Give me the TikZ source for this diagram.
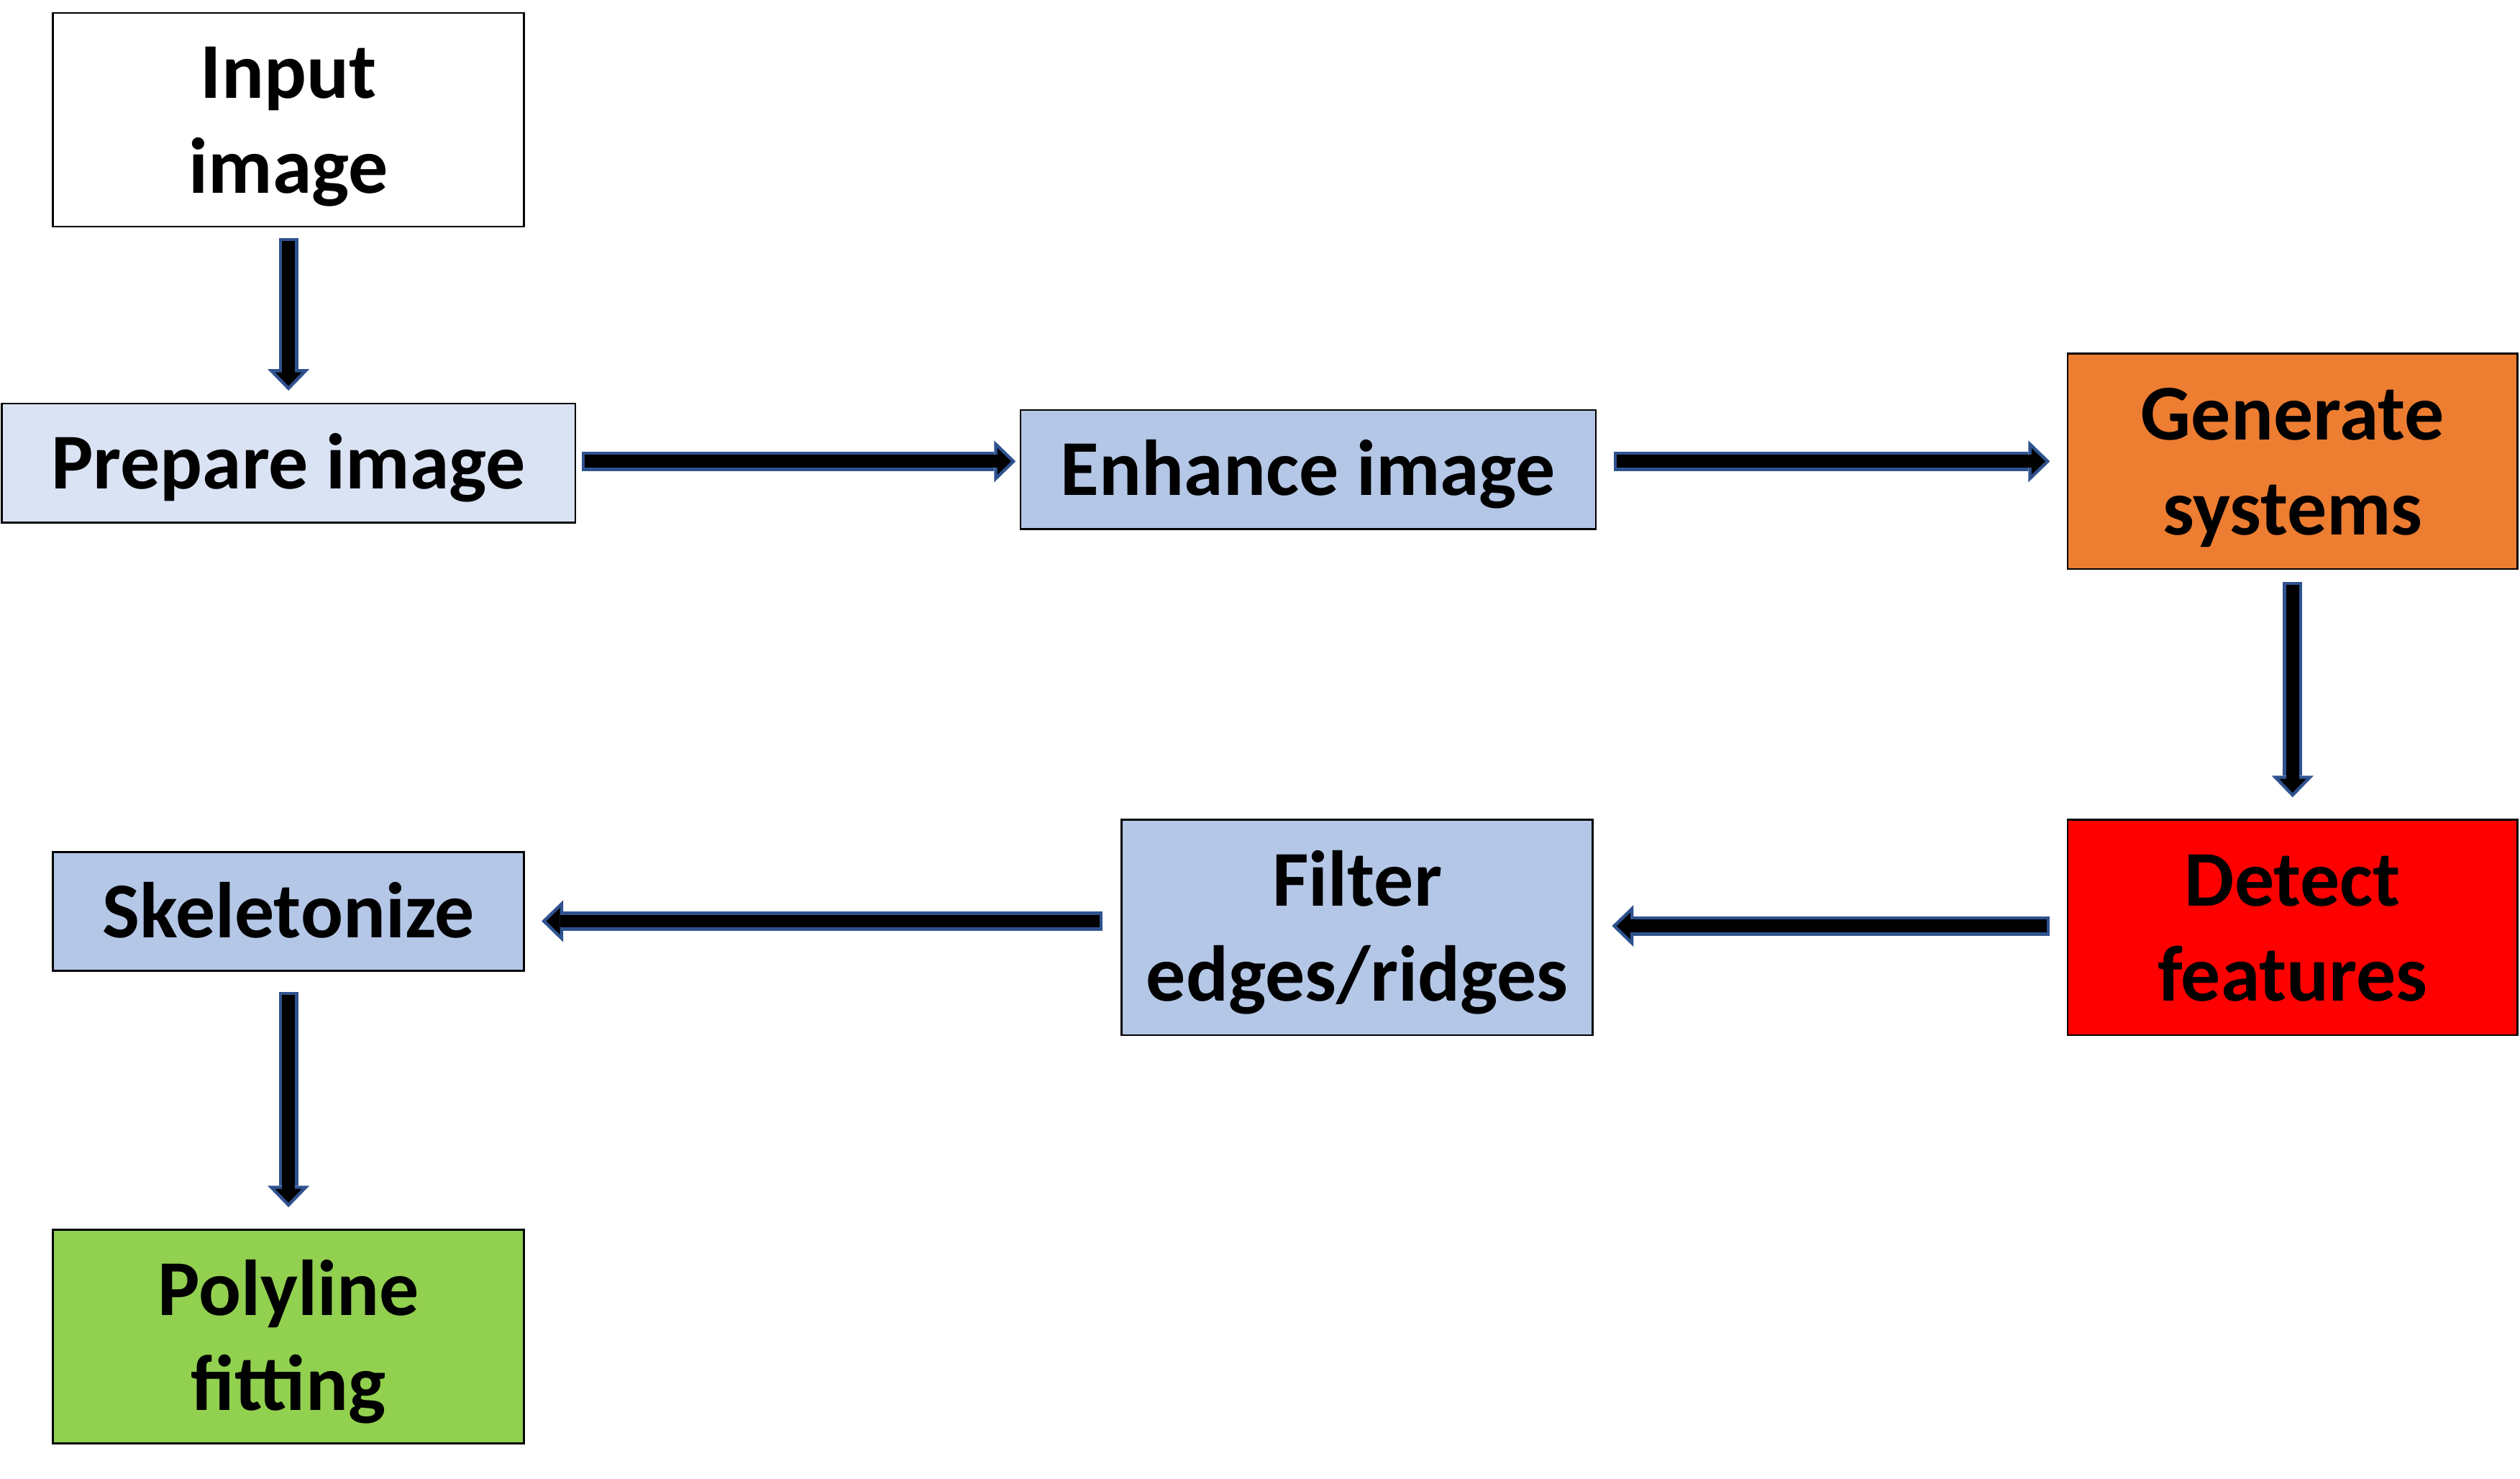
\documentclass[tikz,border=0pt]{standalone}
\usepackage{fontspec}
\setmainfont{Carlito}
\usetikzlibrary{arrows.meta,calc}
\definecolor{lightblue}{HTML}{DAE3F3}
\definecolor{midblue}{HTML}{B4C7E7}
\definecolor{orangebox}{HTML}{ED7D31}
\definecolor{redbox}{HTML}{FF0000}
\definecolor{greenbox}{HTML}{92D050}
\definecolor{arrowblue}{HTML}{2F528F}
\newcommand\linestrut{\rule[-0.26em]{0pt}{1.18em}}
\begin{document}
\begin{tikzpicture}[x=0.5pt,y=-0.5pt,
  box/.style={draw=black, line width=0.6pt, rectangle, inner sep=0pt, outer sep=0pt,
    align=center, font=\fontsize{24.6}{29.5}\selectfont\bfseries},
  flowarrow/.style={line width=4pt, draw=black, shorten <=1pt, shorten >=1.44pt,
    -{Triangle[length=4.26pt,width=8.27pt,line width=0pt 0 0]},
    preaction={draw=arrowblue, line width=6pt, shorten <=0pt, shorten >=0pt,
      -{Triangle[length=6.7pt,width=13pt,line width=0pt 0 0]}}}
]
\fill[white] (0,0) rectangle (1568,920);
\useasboundingbox (0,0) rectangle (1568,920);

\node[box, fill=white, minimum width=146.5pt, minimum height=66.5pt] (in) at (179.5,74.5) {\linestrut Input\\\linestrut image};
\node[box, fill=lightblue, minimum width=178.5pt, minimum height=37pt] (prep) at (179.5,288) {\linestrut Prepare image};
\node[box, fill=midblue, minimum width=179pt, minimum height=37pt] (enh) at (814,292) {\linestrut Enhance image};
\node[box, fill=orangebox, minimum width=140pt, minimum height=67pt] (gen) at (1426.5,287) {\linestrut Generate\\\linestrut systems};
\node[box, fill=redbox, minimum width=140pt, minimum height=67pt] (det) at (1426.5,577) {\linestrut Detect\\\linestrut features};
\node[box, fill=midblue, minimum width=146.5pt, minimum height=67pt] (fil) at (844.5,577) {\linestrut Filter\\\linestrut edges/ridges};
\node[box, fill=midblue, minimum width=146.5pt, minimum height=37pt] (sk) at (179.5,567) {\linestrut Skeletonize};
\node[box, fill=greenbox, minimum width=146.5pt, minimum height=66.5pt] (poly) at (179.5,831.5) {\linestrut Polyline\\\linestrut fitting};

\draw[flowarrow] ($(in.south)+(0,-3.5pt)$) -- ($(prep.north)+(0,4pt)$);
\draw[flowarrow] ($(prep.east)+(2pt,0.5pt)$) -- ($(prep.east -| enh.west)+(-1.5pt,0.5pt)$);
\draw[flowarrow] ($(enh.east |- gen.west)+(5.5pt,0)$) -- ($(gen.west)+(-5.5pt,0)$);
\draw[flowarrow] ($(gen.south)+(0,-4pt)$) -- ($(det.north)+(0,7pt)$);
\draw[flowarrow] ($(det.west)+(-5.5pt,0.5pt)$) -- ($(fil.east)+(6pt,0.5pt)$);
\draw[flowarrow] ($(fil.west)+(-6pt,2pt)$) -- ($(fil.west -| sk.east)+(5.5pt,2pt)$);
\draw[flowarrow] ($(sk.south)+(0,-6.5pt)$) -- ($(poly.north)+(0,7pt)$);
\end{tikzpicture}
\end{document}
